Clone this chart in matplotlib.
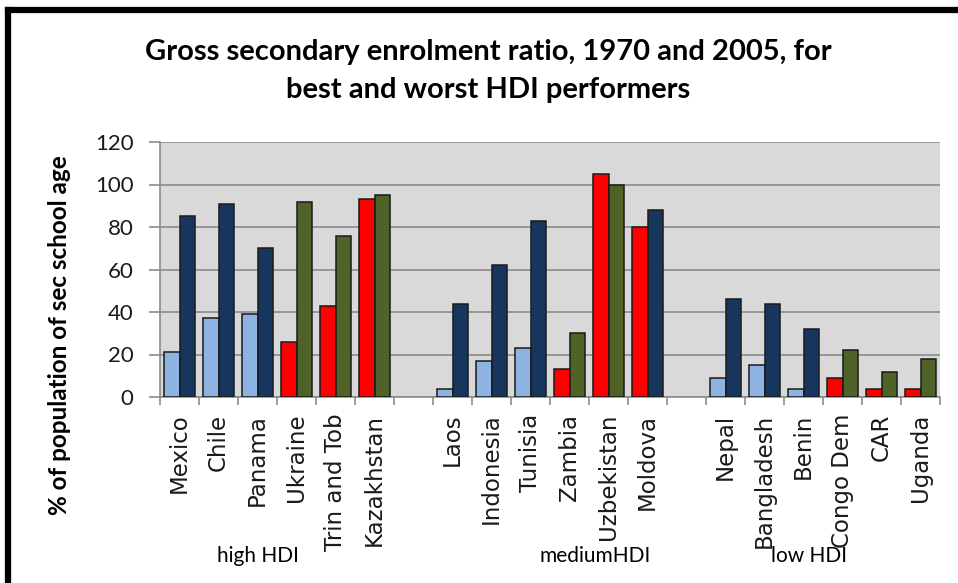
import numpy as np
import matplotlib
matplotlib.use('Agg')
import matplotlib.pyplot as plt
from matplotlib.lines import Line2D
import matplotlib.transforms as mtransforms

# data
groups = ['high HDI', 'mediumHDI', 'low HDI']
countries = [['Mexico', 'Chile', 'Panama', 'Ukraine', 'Trin and Tob', 'Kazakhstan'],
             ['Laos', 'Indonesia', 'Tunisia', 'Zambia', 'Uzbekistan', 'Moldova'],
             ['Nepal', 'Bangladesh', 'Benin', 'Congo Dem', 'CAR', 'Uganda']]
ger_1970 = [[21, 37, 39, 26, 43, 93],
            [4, 17, 23, 13, 105, 80],
            [9, 15, 4, 9, 4, 4]]
ger_2005 = [[85, 91, 70, 92, 76, 95],
            [44, 62, 83, 30, 100, 88],
            [46, 44, 32, 22, 12, 18]]

# bar colours (styling)
light, navy, red, green = '#8DB3E2', '#17365D', '#FF0000', '#4F6228'
col_1970 = [[light, light, light, red, red, red],
            [light, light, light, red, red, red],
            [light, light, light, red, red, red]]
col_2005 = [[navy, navy, navy, green, green, green],
            [navy, navy, navy, green, green, navy],
            [navy, navy, navy, green, green, green]]

W, H = 958, 583
fig = plt.figure(figsize=(W/100, H/100), dpi=100)
ax = fig.add_axes([160/W, 1-397/H, 780/W, 255/H])
ax.set_facecolor('#D9D9D9')

bw = 0.4
centers = []
labels = []
for g in range(3):
  for i in range(6):
    x = g*7 + i + 0.5
    centers.append(x)
    labels.append(countries[g][i])
    ax.bar(x - bw/2, ger_1970[g][i], bw, color=col_1970[g][i], edgecolor='#1a1a1a', linewidth=1.1, zorder=3)
    ax.bar(x + bw/2, ger_2005[g][i], bw, color=col_2005[g][i], edgecolor='#1a1a1a', linewidth=1.1, zorder=3)

ax.set_xlim(0, 20)
ax.set_ylim(0, 120)
ax.set_yticks(np.arange(0, 121, 20))
ax.yaxis.grid(True, color='#8C8C8C', linewidth=1.2, zorder=1)
ax.set_axisbelow(True)

# ticks at category boundaries, labels at centres
bounds = [b for g in range(3) for b in range(g*7, g*7+7)]
ax.set_xticks(bounds)
ax.set_xticklabels([])
ax.set_xticks(centers, minor=True)
ax.set_xticklabels(labels, minor=True, rotation=90, va='top', ha='center',
                   fontsize=16.5, family='DejaVu Sans', color='#1a1a1a')
ax.tick_params(axis='x', which='major', length=6, color='#8C8C8C', width=1.2)
ax.tick_params(axis='x', which='minor', length=0, pad=12)
ax.tick_params(axis='y', length=8, color='#8C8C8C', width=1.2, pad=11)
for t in ax.get_yticklabels():
  t.set_family('Lato')
  t.set_fontsize(16)
  t.set_color('#1a1a1a')

for s in ['top', 'right']:
  ax.spines[s].set_visible(False)
for s in ['left', 'bottom']:
  ax.spines[s].set_color('#8C8C8C')
  ax.spines[s].set_linewidth(1.2)

# group labels
trans = mtransforms.blended_transform_factory(ax.transData, fig.transFigure)
for gx, name in zip([2.5, 11.15, 16.64], groups):
  ax.text(gx, 1-556/H, name, transform=trans, ha='center', va='center',
          fontsize=15, family='Lato', color='black')

fig.text(60/W, 1-335/H, '% of population of sec school age', rotation=90,
         ha='center', va='center', fontsize=17.5, family='Lato', weight='bold')

fig.text(488/W, 1-52/H, 'Gross secondary enrolment ratio, 1970 and 2005, for',
         ha='center', va='center', fontsize=21, family='Lato', weight='bold')
fig.text(488/W, 1-90/H, 'best and worst HDI performers',
         ha='center', va='center', fontsize=21, family='Lato', weight='bold')

# black frame round the chart
fig.add_artist(Line2D([8/W, 8/W], [0, 1-10/H], color='black', linewidth=4.5, transform=fig.transFigure))
fig.add_artist(Line2D([8/W, 1], [1-10/H, 1-10/H], color='black', linewidth=4.5, transform=fig.transFigure))

fig.savefig('out.png', dpi=100)
